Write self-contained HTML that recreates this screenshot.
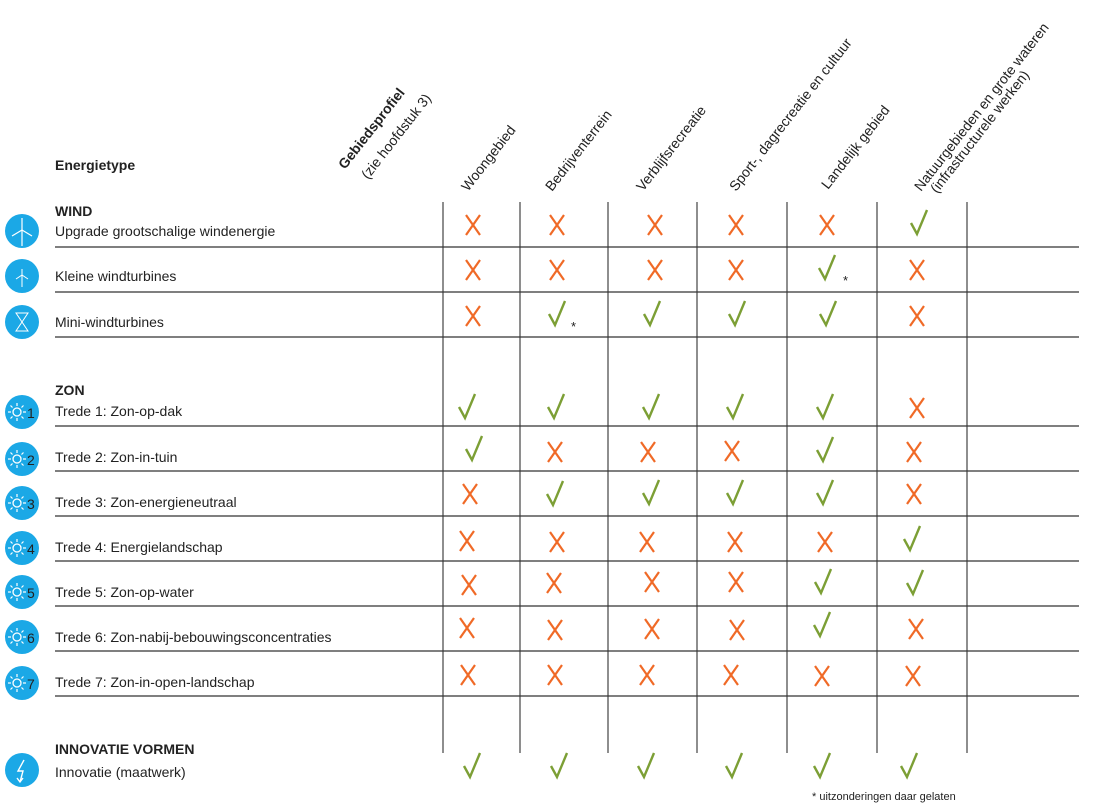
<!DOCTYPE html>
<html><head><meta charset="utf-8"><style>
html,body{margin:0;padding:0;background:#fff;}
svg{display:block;}
text{font-family:"Liberation Sans",sans-serif;fill:#222;}
</style></head><body>
<svg width="1100" height="810" viewBox="0 0 1100 810" xmlns="http://www.w3.org/2000/svg">
<defs>
<g id="x"><line x1="-7" y1="-10" x2="7" y2="10" stroke="#f06a27" stroke-width="2.2"/><line x1="7" y1="-10" x2="-7" y2="10" stroke="#f06a27" stroke-width="2.2"/></g>
<g id="v"><path d="M-8,1 L-2,12 L8,-12" fill="none" stroke="#7c9f35" stroke-width="2.4"/></g>
<g id="sun"><circle r="17" fill="#1ba8e6"/><circle cx="-5" cy="0" r="4" fill="none" stroke="#fff" stroke-width="1.3"/>
<g stroke="#fff" stroke-width="1.2"><line x1="-5" y1="-6" x2="-5" y2="-9"/><line x1="-5" y1="6" x2="-5" y2="9"/><line x1="-11" y1="0" x2="-14" y2="0"/><line x1="1" y1="0" x2="4" y2="0"/><line x1="-9.5" y1="-4.5" x2="-11.5" y2="-6.5"/><line x1="-0.5" y1="-4.5" x2="1.5" y2="-6.5"/><line x1="-9.5" y1="4.5" x2="-11.5" y2="6.5"/><line x1="-0.5" y1="4.5" x2="1.5" y2="6.5"/></g></g>
</defs>

<text x="55" y="170" font-size="14" font-weight="bold">Energietype</text>
<g font-size="14">
<text transform="translate(345,170) rotate(-52)" font-weight="bold">Gebiedsprofiel</text>
<text transform="translate(368,180) rotate(-52)">(zie hoofdstuk 3)</text>
<text transform="translate(468,192) rotate(-52)">Woongebied</text>
<text transform="translate(552,192) rotate(-52)">Bedrijventerrein</text>
<text transform="translate(643,192) rotate(-52)">Verblijfsrecreatie</text>
<text transform="translate(736,192) rotate(-52)">Sport-, dagrecreatie en cultuur</text>
<text transform="translate(828,190) rotate(-52)">Landelijk gebied</text>
<text transform="translate(921,192) rotate(-52)">Natuurgebieden en grote wateren</text>
<text transform="translate(937,194) rotate(-52)">(infrastructurele werken)</text>
</g>

<g stroke="#444" stroke-width="1.2">
<line x1="443" y1="202" x2="443" y2="753"/><line x1="520" y1="202" x2="520" y2="753"/>
<line x1="608" y1="202" x2="608" y2="753"/><line x1="697" y1="202" x2="697" y2="753"/>
<line x1="787" y1="202" x2="787" y2="753"/><line x1="877" y1="202" x2="877" y2="753"/>
<line x1="967" y1="202" x2="967" y2="753"/>
</g>
<g stroke="#333" stroke-width="1.2">
<line x1="55" y1="247" x2="1079" y2="247"/><line x1="55" y1="292" x2="1079" y2="292"/>
<line x1="55" y1="337" x2="1079" y2="337"/><line x1="55" y1="426" x2="1079" y2="426"/>
<line x1="55" y1="471" x2="1079" y2="471"/><line x1="55" y1="516" x2="1079" y2="516"/>
<line x1="55" y1="561" x2="1079" y2="561"/><line x1="55" y1="606" x2="1079" y2="606"/>
<line x1="55" y1="651" x2="1079" y2="651"/><line x1="55" y1="696" x2="1079" y2="696"/>
</g>

<g font-size="14">
<text x="55" y="216" font-weight="bold">WIND</text>
<text x="55" y="236">Upgrade grootschalige windenergie</text>
<text x="55" y="281">Kleine windturbines</text>
<text x="55" y="327">Mini-windturbines</text>
<text x="55" y="395" font-weight="bold">ZON</text>
<text x="55" y="416">Trede 1: Zon-op-dak</text>
<text x="55" y="462">Trede 2: Zon-in-tuin</text>
<text x="55" y="507">Trede 3: Zon-energieneutraal</text>
<text x="55" y="552">Trede 4: Energielandschap</text>
<text x="55" y="597">Trede 5: Zon-op-water</text>
<text x="55" y="642">Trede 6: Zon-nabij-bebouwingsconcentraties</text>
<text x="55" y="687">Trede 7: Zon-in-open-landschap</text>
<text x="55" y="754" font-weight="bold">INNOVATIE VORMEN</text>
<text x="55" y="777">Innovatie (maatwerk)</text>
</g>
<text x="812" y="800" font-size="11">* uitzonderingen daar gelaten</text>

<g>
<circle cx="22" cy="231" r="17" fill="#1ba8e6"/>
<g stroke="#fff" stroke-width="1.2"><line x1="22" y1="230" x2="22" y2="246"/><line x1="22" y1="230" x2="22" y2="218"/><line x1="22" y1="230" x2="12" y2="236"/><line x1="22" y1="230" x2="32" y2="236"/></g>
<circle cx="22" cy="276" r="17" fill="#1ba8e6"/>
<g stroke="#fff" stroke-width="1"><line x1="22" y1="269" x2="22" y2="287"/><line x1="22" y1="275" x2="16" y2="279"/><line x1="22" y1="275" x2="28" y2="279"/></g>
<circle cx="22" cy="322" r="17" fill="#1ba8e6"/>
<path d="M16,313 H28 L16,331 H28 Z" fill="none" stroke="#fff" stroke-width="1"/>
<use href="#sun" x="22" y="412"/><text x="27" y="418" font-size="14" fill="#fff">1</text>
<use href="#sun" x="22" y="459"/><text x="27" y="465" font-size="14" fill="#fff">2</text>
<use href="#sun" x="22" y="503"/><text x="27" y="509" font-size="14" fill="#fff">3</text>
<use href="#sun" x="22" y="548"/><text x="27" y="554" font-size="14" fill="#fff">4</text>
<use href="#sun" x="22" y="592"/><text x="27" y="598" font-size="14" fill="#fff">5</text>
<use href="#sun" x="22" y="637"/><text x="27" y="643" font-size="14" fill="#fff">6</text>
<use href="#sun" x="22" y="683"/><text x="27" y="689" font-size="14" fill="#fff">7</text>
<circle cx="22" cy="770" r="17" fill="#1ba8e6"/>
<path d="M24,760 L18,771 L23,771 L20,782 M17,778 L20,782 L23,778" fill="none" stroke="#fff" stroke-width="1.4"/>
</g>

<use href="#x" x="473" y="225"/><use href="#x" x="557" y="225"/><use href="#x" x="655" y="225"/><use href="#x" x="736" y="225"/><use href="#x" x="827" y="225"/><use href="#v" x="919" y="222"/>
<use href="#x" x="473" y="270"/><use href="#x" x="557" y="270"/><use href="#x" x="655" y="270"/><use href="#x" x="736" y="270"/><use href="#v" x="827" y="267"/><use href="#x" x="917" y="270"/>
<use href="#x" x="473" y="316"/><use href="#v" x="557" y="313"/><use href="#v" x="652" y="313"/><use href="#v" x="737" y="313"/><use href="#v" x="828" y="313"/><use href="#x" x="917" y="316"/>
<text x="843" y="285" font-size="13">*</text><text x="571" y="331" font-size="13">*</text>
<use href="#v" x="467" y="406"/><use href="#v" x="556" y="406"/><use href="#v" x="651" y="406"/><use href="#v" x="735" y="406"/><use href="#v" x="825" y="406"/><use href="#x" x="917" y="408"/>
<use href="#v" x="474" y="448"/><use href="#x" x="555" y="452"/><use href="#x" x="648" y="452"/><use href="#x" x="732" y="451"/><use href="#v" x="825" y="449"/><use href="#x" x="914" y="452"/>
<use href="#x" x="470" y="494"/><use href="#v" x="555" y="493"/><use href="#v" x="651" y="492"/><use href="#v" x="735" y="492"/><use href="#v" x="825" y="492"/><use href="#x" x="914" y="494"/>
<use href="#x" x="467" y="541"/><use href="#x" x="557" y="542"/><use href="#x" x="647" y="542"/><use href="#x" x="735" y="542"/><use href="#x" x="825" y="542"/><use href="#v" x="912" y="538"/>
<use href="#x" x="469" y="585"/><use href="#x" x="554" y="583"/><use href="#x" x="652" y="582"/><use href="#x" x="736" y="582"/><use href="#v" x="823" y="581"/><use href="#v" x="915" y="582"/>
<use href="#x" x="467" y="628"/><use href="#x" x="555" y="630"/><use href="#x" x="652" y="629"/><use href="#x" x="737" y="630"/><use href="#v" x="822" y="624"/><use href="#x" x="916" y="629"/>
<use href="#x" x="468" y="675"/><use href="#x" x="555" y="675"/><use href="#x" x="647" y="675"/><use href="#x" x="731" y="675"/><use href="#x" x="822" y="676"/><use href="#x" x="913" y="676"/>
<use href="#v" x="472" y="765"/><use href="#v" x="559" y="765"/><use href="#v" x="646" y="765"/><use href="#v" x="734" y="765"/><use href="#v" x="822" y="765"/><use href="#v" x="909" y="765"/>
</svg>
</body></html>
